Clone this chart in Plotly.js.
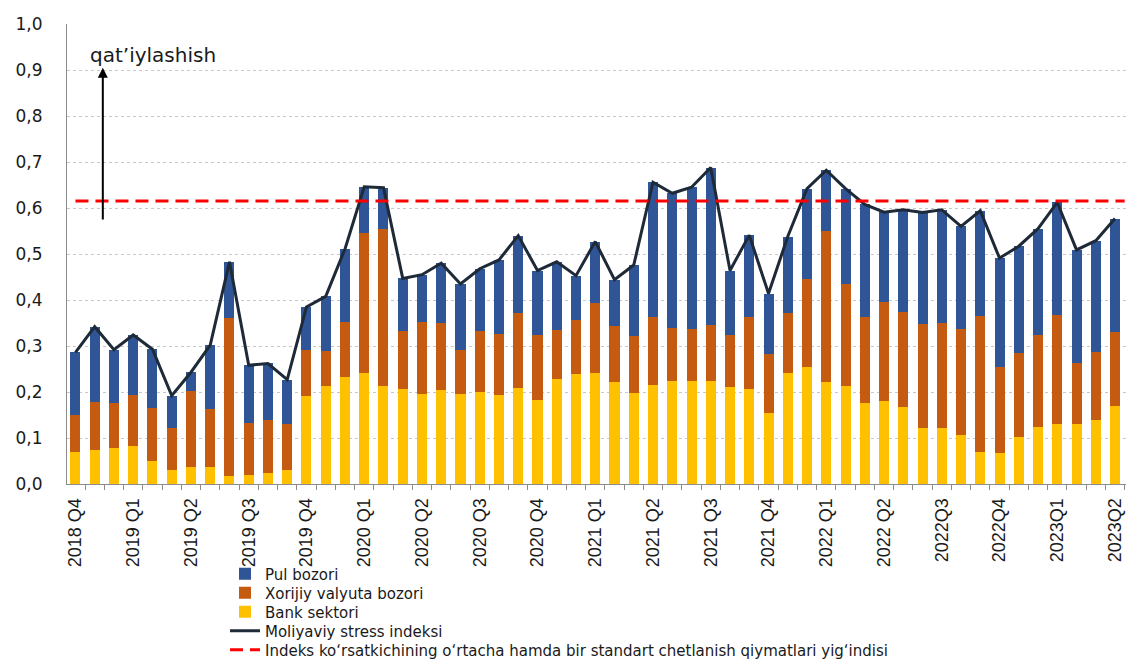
<!DOCTYPE html>
<html>
<head>
<meta charset="utf-8">
<script src="https://cdn.plot.ly/plotly-3.0.1.min.js"></script>
<style>html,body{margin:0;padding:0;background:#fff;}#chart{width:1126px;height:664px;}</style>
</head>
<body>
<div id="chart"></div>
<script>
// Monthly observations (Oct 2018 – Apr 2023)
const months = ["2018-10","2018-11","2018-12","2019-01","2019-02","2019-03","2019-04","2019-05","2019-06","2019-07","2019-08","2019-09",
  "2019-10","2019-11","2019-12","2020-01","2020-02","2020-03","2020-04","2020-05","2020-06","2020-07","2020-08","2020-09",
  "2020-10","2020-11","2020-12","2021-01","2021-02","2021-03","2021-04","2021-05","2021-06","2021-07","2021-08","2021-09",
  "2021-10","2021-11","2021-12","2022-01","2022-02","2022-03","2022-04","2022-05","2022-06","2022-07","2022-08","2022-09",
  "2022-10","2022-11","2022-12","2023-01","2023-02","2023-03","2023-04"];

const quarterLabels = ["2018 Q4","2019 Q1","2019 Q2","2019 Q3","2019 Q4","2020 Q1","2020 Q2","2020 Q3","2020 Q4",
  "2021 Q1","2021 Q2","2021 Q3","2021 Q4","2022 Q1","2022 Q2","2022Q3","2022Q4","2023Q1","2023Q2"];

// Bank sektori
const bankSector = [0.070,0.074,0.079,0.083,0.050,0.031,0.037,0.036,0.018,0.020,0.025,0.030,
  0.191,0.214,0.233,0.242,0.212,0.207,0.196,0.204,0.196,0.200,0.194,0.209,
  0.183,0.228,0.239,0.242,0.222,0.198,0.216,0.225,0.223,0.224,0.211,0.207,
  0.155,0.241,0.254,0.222,0.214,0.176,0.180,0.167,0.122,0.121,0.106,0.070,
  0.068,0.102,0.124,0.131,0.131,0.140,0.169];

// Xorijiy valyuta bozori
const fxMarket = [0.081,0.104,0.097,0.111,0.115,0.091,0.166,0.126,0.342,0.112,0.115,0.101,
  0.100,0.075,0.120,0.303,0.343,0.126,0.157,0.145,0.095,0.133,0.133,0.163,
  0.141,0.107,0.117,0.152,0.122,0.124,0.146,0.115,0.113,0.121,0.114,0.156,
  0.128,0.130,0.192,0.328,0.221,0.186,0.216,0.206,0.225,0.230,0.231,0.295,
  0.187,0.182,0.200,0.237,0.133,0.146,0.162];

// Pul bozori
const moneyMarket = [0.135,0.164,0.116,0.130,0.128,0.070,0.040,0.140,0.123,0.126,0.122,0.096,
  0.094,0.119,0.158,0.101,0.089,0.114,0.102,0.131,0.144,0.135,0.160,0.168,
  0.140,0.148,0.097,0.133,0.100,0.154,0.294,0.292,0.309,0.343,0.139,0.178,
  0.131,0.167,0.196,0.132,0.207,0.246,0.195,0.223,0.243,0.245,0.223,0.229,
  0.236,0.233,0.231,0.244,0.245,0.243,0.246];

// Moliyaviy stress indeksi
const stressIndex = [0.286,0.342,0.292,0.324,0.293,0.192,0.243,0.302,0.483,0.258,0.262,0.227,
  0.385,0.408,0.511,0.646,0.644,0.447,0.455,0.480,0.435,0.468,0.487,0.540,
  0.464,0.483,0.453,0.527,0.444,0.476,0.656,0.632,0.645,0.688,0.464,0.541,
  0.414,0.538,0.642,0.682,0.642,0.608,0.591,0.596,0.590,0.596,0.560,0.594,
  0.491,0.517,0.555,0.612,0.509,0.529,0.577];

// Mean + one standard deviation threshold
const threshold = 0.615;

const xIdx = months.map((m, i) => i);
const quarterIdx = quarterLabels.map((q, k) => k * 3);
const boundaries = months.map((m, i) => i - 0.5).concat([months.length - 0.5]);

const legendFont = {family: "DejaVu Sans", size: 15, color: "#1a1a1a"};

const traces = [
  {type: "bar", name: "Bank sektori", x: xIdx, y: bankSector, marker: {color: "#FFC000"}, legend: "legend3", customdata: months},
  {type: "bar", name: "Xorijiy valyuta bozori", x: xIdx, y: fxMarket, marker: {color: "#C55A11"}, legend: "legend2", customdata: months},
  {type: "bar", name: "Pul bozori", x: xIdx, y: moneyMarket, marker: {color: "#2F5597"}, legend: "legend", customdata: months},
  {type: "scatter", mode: "lines", name: "Moliyaviy stress indeksi", x: xIdx, y: stressIndex,
   line: {color: "#1F2A38", width: 3}, legend: "legend4", customdata: months},
  {type: "scatter", mode: "lines", name: "Indeks ko‘rsatkichining o‘rtacha hamda bir standart chetlanish qiymatlari yig‘indisi",
   x: [xIdx[0], xIdx[xIdx.length - 1] + 0.5], y: [threshold, threshold],
   line: {color: "#FF0000", width: 3, dash: "13px,7px"}, legend: "legend5"}
];

const H = 664;
function legendAt(centerPx) {
  return {xref: "container", yref: "container", x: 225 / 1126, y: 1 - centerPx / H,
          xanchor: "left", yanchor: "middle", font: legendFont, bgcolor: "rgba(0,0,0,0)", borderwidth: 0};
}

const layout = {
  width: 1126, height: H,
  margin: {l: 67, r: 0, t: 24, b: 180, autoexpand: false},
  paper_bgcolor: "#ffffff", plot_bgcolor: "#ffffff",
  barmode: "stack", bargap: 0.48,
  separators: ", ",
  showlegend: true,
  legend: legendAt(574),
  legend2: legendAt(593),
  legend3: legendAt(612),
  legend4: legendAt(631),
  legend5: legendAt(650),
  xaxis: {
    type: "linear", range: [-0.44, 54.57], fixedrange: true,
    tickmode: "array", tickvals: quarterIdx, ticktext: quarterLabels,
    tickangle: -90, ticks: "", ticklabelstandoff: 6, ticklabeloverflow: "allow",
    tickfont: {family: "Liberation Sans", size: 18, color: "#1a1a1a"},
    showgrid: false, zeroline: false,
    showline: true, linecolor: "#8c8c8c", linewidth: 1,
    minor: {tickmode: "array", tickvals: boundaries, ticks: "outside", ticklen: 5, tickcolor: "#8c8c8c", tickwidth: 1, showgrid: false}
  },
  yaxis: {
    range: [0, 1.0], dtick: 0.1, tick0: 0, tickformat: ".1f", fixedrange: true,
    tickfont: {family: "DejaVu Sans", size: 17, color: "#1a1a1a"},
    ticks: "", ticklabelstandoff: 20,
    showgrid: true, gridcolor: "#c8c8c8", griddash: "dot", gridwidth: 1,
    zeroline: false, showline: true, linecolor: "#8c8c8c", linewidth: 1
  },
  annotations: [
    {x: 1.42, y: 0.905, ax: 1.42, ay: 0.572, xref: "x", yref: "y", axref: "x", ayref: "y",
     showarrow: true, arrowhead: 2, arrowsize: 1, arrowwidth: 2, arrowcolor: "#000000", text: ""},
    {x: 0.65, y: 0.933, xref: "x", yref: "y", xanchor: "left", yanchor: "middle", showarrow: false,
     text: "qat’iylashish", font: {family: "DejaVu Sans", size: 20, color: "#1a1a1a"}}
  ]
};

Plotly.newPlot("chart", traces, layout, {displayModeBar: false, staticPlot: true});
</script>
</body>
</html>
